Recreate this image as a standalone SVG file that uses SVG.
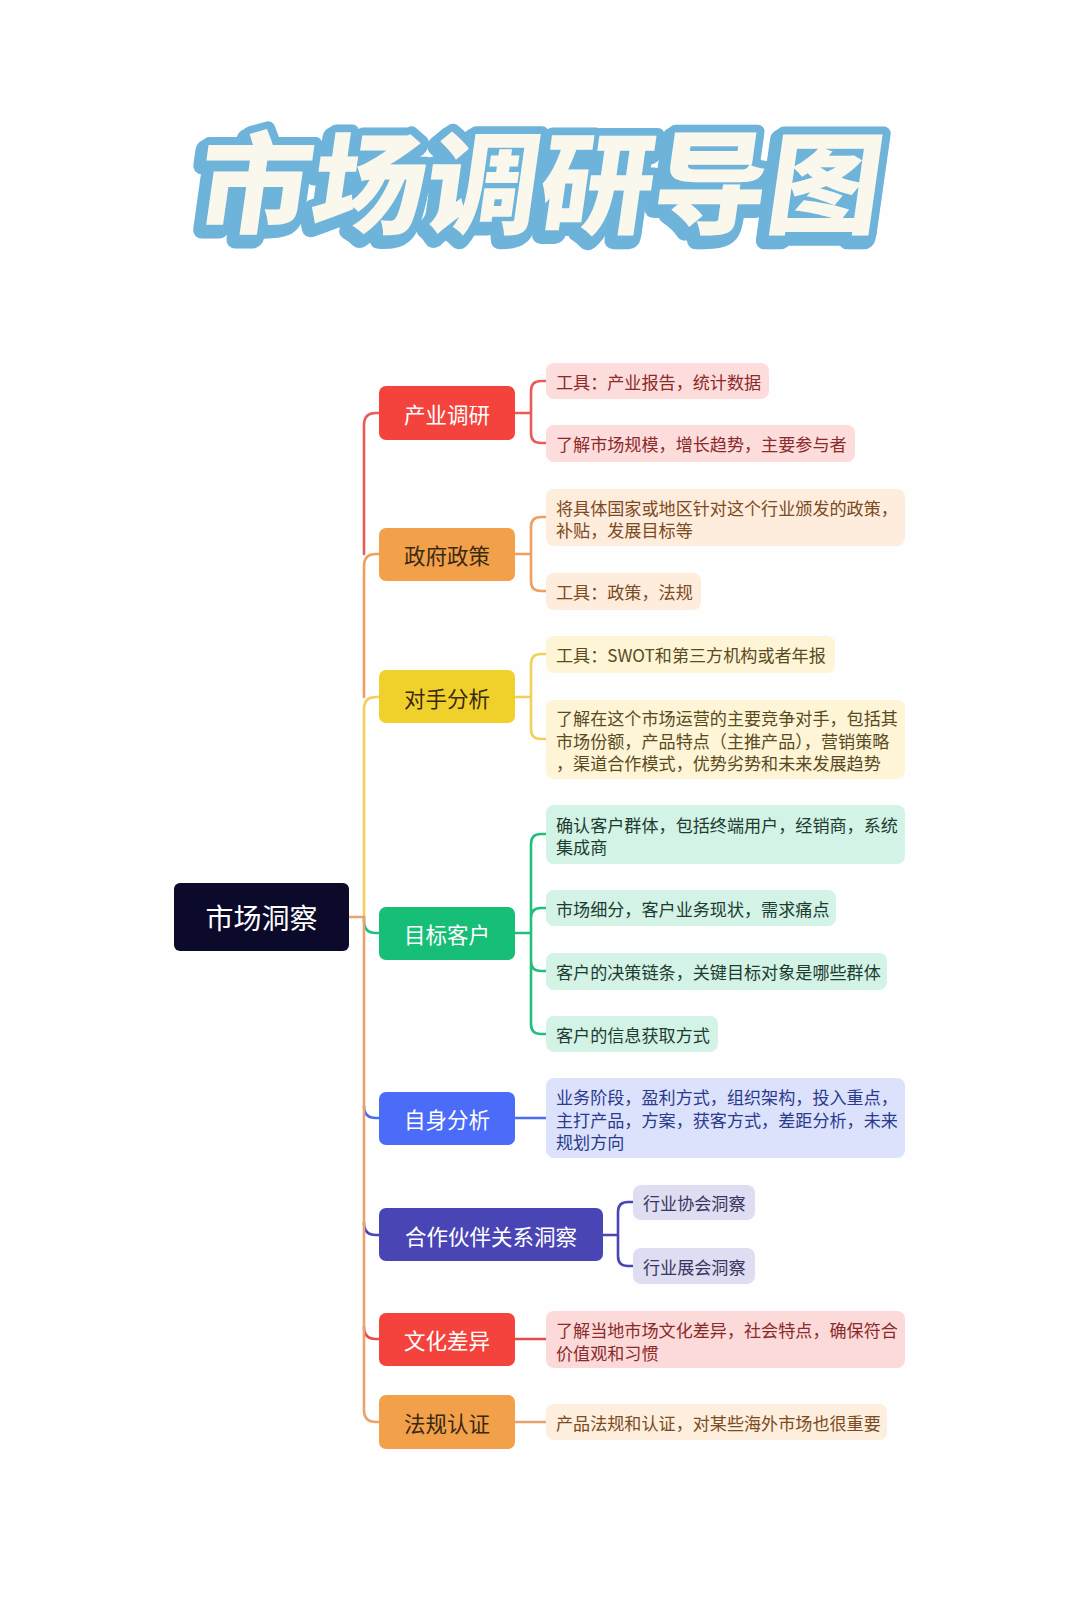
<svg xmlns="http://www.w3.org/2000/svg" width="1080" height="1607" viewBox="0 0 1080 1607">
<style>
.t{font-family:"Noto Sans CJK SC","Noto Sans",sans-serif}
.title{font-family:"Noto Sans CJK SC",sans-serif;font-weight:900;font-size:114px;text-anchor:middle;stroke-linejoin:round;paint-order:stroke}
.l1{font-size:21.5px;text-anchor:middle;dominant-baseline:central}
.lf{font-size:17.1px;dominant-baseline:central}
.w{fill:#ffffff}.d{fill:#3a2a12}
.c{fill:none;stroke-width:2.6;stroke-linecap:round;stroke-linejoin:round}
</style>
<rect width="1080" height="1607" fill="#fefefe"/>
<g id="title">
<g transform="translate(532,229) skewX(-8) scale(1,0.97)">
<text class="title" x="0" y="0" fill="#6db3da" stroke="#6db3da" stroke-width="20">市场调研导图</text>
</g>
<g transform="translate(535,225) skewX(-8) scale(1,0.97)">
<text class="title" x="0" y="0" fill="#faf8ec" stroke="#6db3da" stroke-width="16">市场调研导图</text>
</g>
</g>
<g id="connectors">
<path class="c" stroke="#e95b57" d="M364 554 V425 Q364 413 376 413 H379"/>
<path class="c" stroke="#efa05e" d="M364 697 V566 Q364 554 376 554 H379"/>
<path class="c" stroke="#f2d05a" d="M364 917 V709 Q364 697 376 697 H379"/>
<path class="c" stroke="#1fbf7c" d="M364 917 V921 Q364 933 376 933 H379"/>
<path class="c" stroke="#4a6cf0" d="M364 1106 Q364 1118 376 1118 H379"/>
<path class="c" stroke="#4a45b5" d="M364 1223 Q364 1235 376 1235 H379"/>
<path class="c" stroke="#e84a45" d="M364 1327 Q364 1339 376 1339 H379"/>
<path class="c" stroke="#e9a36f" d="M364 917 V1410 Q364 1422 376 1422 H379"/>
<path class="c" stroke="#e9a36f" d="M349 917 H364"/>
<path class="c" stroke="#e95b57" d="M515 413 H531 V391 Q531 381 541 381 H546 M531 413 V433 Q531 443 541 443 H546"/>
<path class="c" stroke="#efa05e" d="M515 554 H531 V527 Q531 517 541 517 H546 M531 554 V581 Q531 591 541 591 H546"/>
<path class="c" stroke="#f2d05a" d="M515 697 H531 V664 Q531 654 541 654 H546 M531 697 V729 Q531 739 541 739 H546"/>
<path class="c" stroke="#1fbf7c" d="M515 933 H531 V844 Q531 834 541 834 H546 M531 933 V918 Q531 908 541 908 H546 M531 933 V961 Q531 971 541 971 H546 M531 933 V1024 Q531 1034 541 1034 H546"/>
<path class="c" stroke="#4a6cf0" d="M515 1118 H546"/>
<path class="c" stroke="#4a45b5" d="M603 1235 H618 V1212 Q618 1202 628 1202 H633 M618 1235 V1256 Q618 1266 628 1266 H633"/>
<path class="c" stroke="#e84a45" d="M515 1339 H546"/>
<path class="c" stroke="#e9a36f" d="M515 1422 H546"/>
</g>
<g id="root">
<rect x="174" y="883" width="175" height="68" rx="6" fill="#0b0a2b"/>
<text class="t w" x="261.5" y="917" font-size="28" text-anchor="middle" dominant-baseline="central">市场洞察</text>
</g>
<g id="n1">
<rect x="379" y="386" width="136" height="54" rx="7" fill="#f4433c"/>
<text class="t l1 w" x="447" y="413">产业调研</text>
</g>
<g id="n1a">
<rect x="546" y="363" width="223" height="36" rx="8" fill="#fddcdc"/>
<text class="t lf" x="556" y="381" fill="#8a2a2a">工具：产业报告，统计数据</text>
</g>
<g id="n1b">
<rect x="546" y="425" width="309" height="37" rx="8" fill="#fddcdc"/>
<text class="t lf" x="556" y="443" fill="#8a2a2a">了解市场规模，增长趋势，主要参与者</text>
</g>
<g id="n2">
<rect x="379" y="528" width="136" height="53" rx="7" fill="#f3a04b"/>
<text class="t l1 d" x="447" y="554">政府政策</text>
</g>
<g id="n2a">
<rect x="546" y="489" width="359" height="57" rx="8" fill="#feecdd"/>
<text class="t lf" x="556" y="507" fill="#7b4b22">将具体国家或地区针对这个行业颁发的政策，</text>
<text class="t lf" x="556" y="529" fill="#7b4b22">补贴，发展目标等</text>
</g>
<g id="n2b">
<rect x="546" y="573" width="155" height="37" rx="8" fill="#feecdd"/>
<text class="t lf" x="556" y="591" fill="#7b4b22">工具：政策，法规</text>
</g>
<g id="n3">
<rect x="379" y="670" width="136" height="53" rx="7" fill="#f0d12c"/>
<text class="t l1 d" x="447" y="697">对手分析</text>
</g>
<g id="n3a">
<rect x="546" y="636" width="289" height="37" rx="8" fill="#fdf5d6"/>
<text class="t lf" x="556" y="654" fill="#5b4a1e">工具：SWOT和第三方机构或者年报</text>
</g>
<g id="n3b">
<rect x="546" y="700" width="359" height="79" rx="8" fill="#fdf5d6"/>
<text class="t lf" x="556" y="717" fill="#5b4a1e">了解在这个市场运营的主要竞争对手，包括其</text>
<text class="t lf" x="556" y="740" fill="#5b4a1e">市场份额，产品特点（主推产品），营销策略</text>
<text class="t lf" x="556" y="762" fill="#5b4a1e">，渠道合作模式，优势劣势和未来发展趋势</text>
</g>
<g id="n4">
<rect x="379" y="907" width="136" height="53" rx="7" fill="#17be78"/>
<text class="t l1 w" x="447" y="933">目标客户</text>
</g>
<g id="n4a">
<rect x="546" y="805" width="359" height="59" rx="8" fill="#d3f3e6"/>
<text class="t lf" x="556" y="824" fill="#1e3b30">确认客户群体，包括终端用户，经销商，系统</text>
<text class="t lf" x="556" y="846" fill="#1e3b30">集成商</text>
</g>
<g id="n4b">
<rect x="546" y="890" width="290" height="36" rx="8" fill="#d3f3e6"/>
<text class="t lf" x="556" y="908" fill="#1e3b30">市场细分，客户业务现状，需求痛点</text>
</g>
<g id="n4c">
<rect x="546" y="953" width="341" height="37" rx="8" fill="#d3f3e6"/>
<text class="t lf" x="556" y="971" fill="#1e3b30">客户的决策链条，关键目标对象是哪些群体</text>
</g>
<g id="n4d">
<rect x="546" y="1016" width="172" height="36" rx="8" fill="#d3f3e6"/>
<text class="t lf" x="556" y="1034" fill="#1e3b30">客户的信息获取方式</text>
</g>
<g id="n5">
<rect x="379" y="1092" width="136" height="53" rx="7" fill="#4a6cf8"/>
<text class="t l1 w" x="447" y="1118">自身分析</text>
</g>
<g id="n5a">
<rect x="546" y="1078" width="359" height="80" rx="8" fill="#dce2fc"/>
<text class="t lf" x="556" y="1096" fill="#2b3a8c">业务阶段，盈利方式，组织架构，投入重点，</text>
<text class="t lf" x="556" y="1119" fill="#2b3a8c">主打产品，方案，获客方式，差距分析，未来</text>
<text class="t lf" x="556" y="1141" fill="#2b3a8c">规划方向</text>
</g>
<g id="n6">
<rect x="379" y="1208" width="224" height="53" rx="7" fill="#4a45b5"/>
<text class="t l1 w" x="491" y="1235">合作伙伴关系洞察</text>
</g>
<g id="n6a">
<rect x="633" y="1185" width="122" height="35" rx="8" fill="#deddf2"/>
<text class="t lf" x="643" y="1202" fill="#3a3560">行业协会洞察</text>
</g>
<g id="n6b">
<rect x="633" y="1248" width="122" height="36" rx="8" fill="#deddf2"/>
<text class="t lf" x="643" y="1266" fill="#3a3560">行业展会洞察</text>
</g>
<g id="n7">
<rect x="379" y="1313" width="136" height="53" rx="7" fill="#f4433c"/>
<text class="t l1 w" x="447" y="1339">文化差异</text>
</g>
<g id="n7a">
<rect x="546" y="1311" width="359" height="57" rx="8" fill="#fcdada"/>
<text class="t lf" x="556" y="1329" fill="#8a2a2a">了解当地市场文化差异，社会特点，确保符合</text>
<text class="t lf" x="556" y="1352" fill="#8a2a2a">价值观和习惯</text>
</g>
<g id="n8">
<rect x="379" y="1395" width="136" height="54" rx="7" fill="#f3a04b"/>
<text class="t l1 d" x="447" y="1422">法规认证</text>
</g>
<g id="n8a">
<rect x="546" y="1404" width="341" height="36" rx="8" fill="#feeedd"/>
<text class="t lf" x="556" y="1422" fill="#7b4b22">产品法规和认证，对某些海外市场也很重要</text>
</g>
</svg>
